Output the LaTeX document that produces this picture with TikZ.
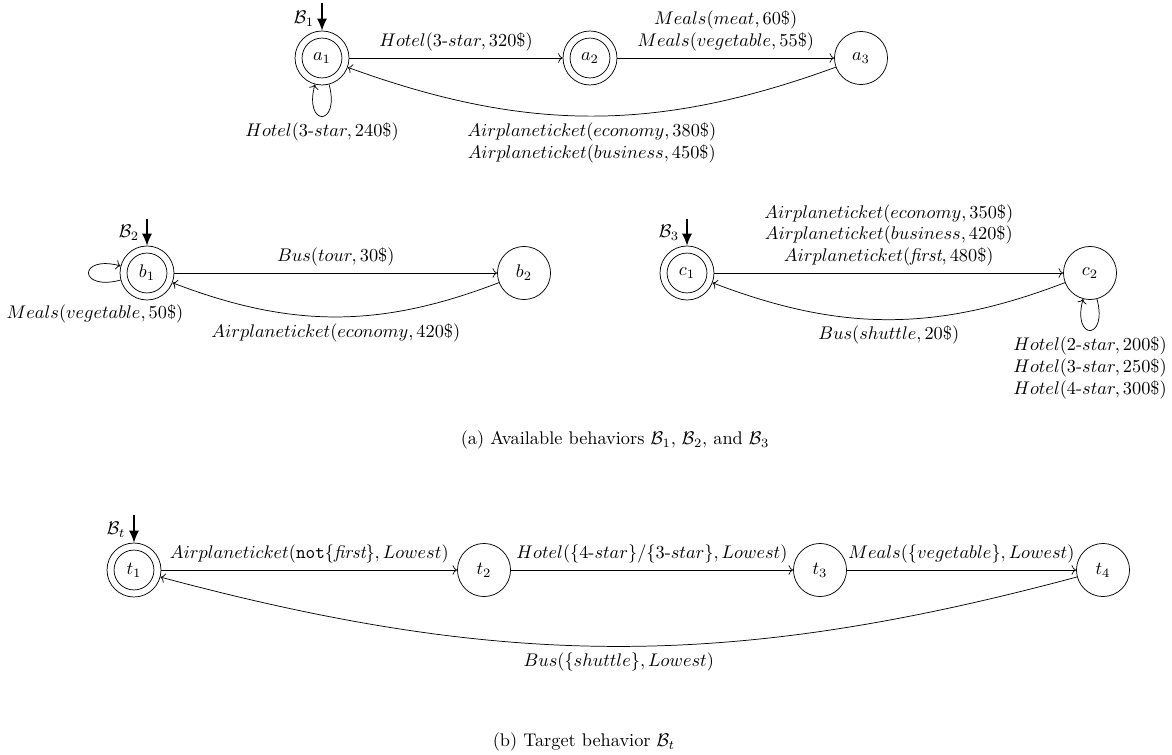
\documentclass[tikz,border=0pt]{standalone}
\usepackage{amsmath}
\usetikzlibrary{arrows.meta}
\begin{document}
\begin{tikzpicture}[x=0.5464pt,y=0.5464pt,
  st/.style={circle,draw,minimum size=29pt,inner sep=0pt},
  acc/.style={st,minimum size=29.5pt,
    path picture={\draw (path picture bounding box.center) circle (10.9pt);}},
  tr/.style={->},
  init/.style={line width=0.8pt,-{Latex[length=6.5pt,width=5.5pt]}},
  ml/.style={align=center}
]
\useasboundingbox (0,0) rectangle (1172,-755);

% ---------- behaviour B1 ----------
\node[acc] (a1) at (322,-58) {$a_1$};
\node[acc] (a2) at (590,-58) {$a_2$};
\node[st]  (a3) at (861,-58) {$a_3$};
\coordinate (ia1) at (322,-3);
\node (B1) at (304,-19) {$\mathcal{B}_1$};
\draw[init] (ia1) -- (a1);
\draw[tr] (a1) -- node[above] {$Hotel(3\text{-}star, 320\$)$} (a2);
\draw[tr] (a2) -- node[above,ml] {$Meals(meat, 60\$)$\\$Meals(vegetable, 55\$)$} (a3);
\draw[tr] (a3) to[bend left=20] node[below,ml]
  {$Airplaneticket(economy, 380\$)$\\$Airplaneticket(business, 450\$)$} (a1);
\draw[tr] (a1) to[loop below] node[below] {$Hotel(3\text{-}star, 240\$)$} (a1);

% ---------- behaviour B2 ----------
\node[acc] (b1) at (147,-273) {$b_1$};
\node[st]  (b2) at (524,-273) {$b_2$};
\coordinate (ib1) at (147,-219);
\node (B2) at (129,-233) {$\mathcal{B}_2$};
\draw[init] (ib1) -- (b1);
\draw[tr] (b1) -- node[above] {$Bus(tour, 30\$)$} (b2);
\draw[tr] (b2) to[bend left=21] node[below] {$Airplaneticket(economy, 420\$)$} (b1);
\draw[tr] (b1) to[loop left] (b1);
\node (lb1) at (95,-314) {$Meals(vegetable, 50\$)$};

% ---------- behaviour B3 ----------
\node[acc] (c1) at (687,-273) {$c_1$};
\node[st]  (c2) at (1090,-273) {$c_2$};
\coordinate (ic1) at (687,-219);
\node (B3) at (669,-233) {$\mathcal{B}_3$};
\draw[init] (ic1) -- (c1);
\draw[tr] (c1) -- node[above,ml]
  {$Airplaneticket(economy, 350\$)$\\$Airplaneticket(business, 420\$)$\\$Airplaneticket(\textit{first}, 480\$)$} (c2);
\draw[tr] (c2) to[bend left=21] node[below] {$Bus(shuttle, 20\$)$} (c1);
\draw[tr] (c2) to[loop below] node[below,ml]
  {$Hotel(2\text{-}star, 200\$)$\\$Hotel(3\text{-}star, 250\$)$\\$Hotel(4\text{-}star, 300\$)$} (c2);

\node (capa) at (615,-440) {(a) Available behaviors $\mathcal{B}_1$, $\mathcal{B}_2$, and $\mathcal{B}_3$};

% ---------- target behaviour ----------
\node[acc] (t1) at (134,-570) {$t_1$};
\node[st]  (t2) at (484,-570) {$t_2$};
\node[st]  (t3) at (820,-570) {$t_3$};
\node[st]  (t4) at (1103,-570) {$t_4$};
\coordinate (it1) at (134,-515);
\node (Bt) at (116,-530) {$\mathcal{B}_t$};
\draw[init] (it1) -- (t1);
\draw[tr] (t1) -- node[above] {$Airplaneticket(\texttt{not}\{\textit{first}\}, Lowest)$} (t2);
\draw[tr] (t2) -- node[above] {$Hotel(\{4\text{-}star\}/\{3\text{-}star\}, Lowest)$} (t3);
\draw[tr] (t3) -- node[above] {$Meals(\{vegetable\}, Lowest)$} (t4);
\draw[tr] (t4) to[bend left=15] node[below] {$Bus(\{shuttle\}, Lowest)$} (t1);

\node (capb) at (584,-742) {(b) Target behavior $\mathcal{B}_t$};
\end{tikzpicture}
\end{document}
